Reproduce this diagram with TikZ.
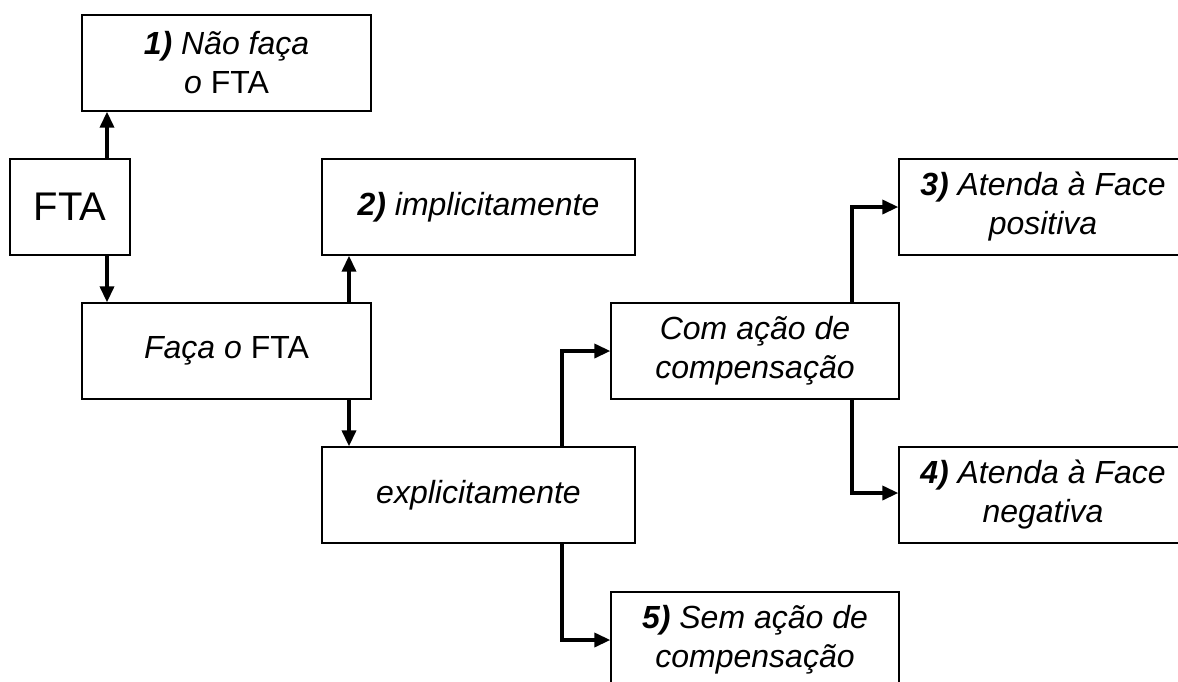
\documentclass[tikz,border=0pt]{standalone}
\usepackage{fontspec}
\setmainfont{Liberation Sans}
\usetikzlibrary{arrows.meta}
\begin{document}
\begin{tikzpicture}[x=1pt,y=-1pt,
  box/.style={draw=black,line width=1.3pt,inner sep=0pt,align=center,
    font=\fontsize{32}{39}\selectfont},
  arr/.style={line width=3.5pt,-{Triangle[length=16pt,width=14pt]}}]
\useasboundingbox (0,0) rectangle (1178,681);
\clip (0,0) rectangle (1178,681);
\node[box,minimum width=289pt,minimum height=96pt] (n1) at (226.5,63) {\textit{\textbf{1)} Não faça}\\\textit{o} FTA};
\node[box,minimum width=120pt,minimum height=96pt,font=\fontsize{40}{48}\selectfont] (fta) at (70,207) {FTA};
\node[box,minimum width=289pt,minimum height=96pt] (faca) at (226.5,351) {\textit{Faça o} FTA};
\node[box,minimum width=313pt,minimum height=96pt] (impl) at (478.5,207) {\textit{\textbf{2)} implicitamente}};
\node[box,minimum width=313pt,minimum height=96pt] (expl) at (478.5,495) {\textit{explicitamente}};
\node[box,minimum width=288pt,minimum height=96pt] (com) at (755,351) {\textit{Com ação de}\\\textit{compensação}};
\node[box,minimum width=288pt,minimum height=96pt] (a3) at (1043,207) {\textit{\textbf{3)} Atenda à Face}\\\textit{positiva}};
\node[box,minimum width=288pt,minimum height=96pt] (a4) at (1043,495) {\textit{\textbf{4)} Atenda à Face}\\\textit{negativa}};
\node[box,minimum width=288pt,minimum height=96pt] (s5) at (755,640) {\textit{\textbf{5)} Sem ação de}\\\textit{compensação}};
\draw[arr] ([xshift=37pt]fta.north) -- ([xshift=37pt]fta.north |- n1.south);
\draw[arr] ([xshift=37pt]fta.south) -- ([xshift=37pt]fta.south |- faca.north);
\draw[arr] ([xshift=122.5pt]faca.north) -- ([xshift=122.5pt]faca.north |- impl.south);
\draw[arr] ([xshift=122.5pt]faca.south) -- ([xshift=122.5pt]faca.south |- expl.north);
\draw[arr] ([xshift=83.5pt]expl.north) |- (com.west);
\draw[arr] ([xshift=83.5pt]expl.south) |- (s5.west);
\draw[arr] ([xshift=97pt]com.north) |- (a3.west);
\draw[arr] ([xshift=97pt]com.south) |- ([yshift=2pt]a4.west);
\end{tikzpicture}
\end{document}
